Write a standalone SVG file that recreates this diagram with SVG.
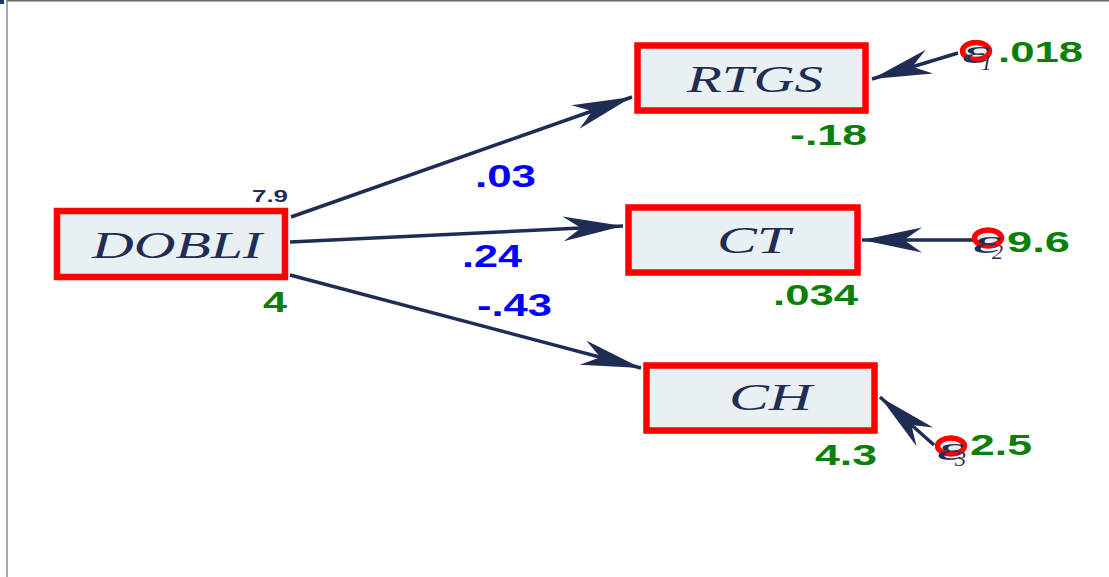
<svg xmlns="http://www.w3.org/2000/svg" width="1109" height="577" viewBox="0 0 1109 577">
  <style>
    .box { fill: #e9f0f3; stroke: #ff0000; stroke-width: 6.5; }
    .var { font-family: "Liberation Serif", serif; font-style: italic; font-size: 38px; fill: #1f2d55; }
    .eps { font-family: "Liberation Serif", serif; font-style: italic; font-size: 34px; fill: #1f2d55; }
    .sub { font-family: "Liberation Serif", serif; font-style: italic; font-size: 22px; fill: #1f2d55; }
    .coef { font-family: "Liberation Sans", Arial, sans-serif; font-weight: bold; font-size: 31px; fill: #0000ff; }
    .est { font-family: "Liberation Sans", Arial, sans-serif; font-weight: bold; font-size: 29px; fill: #0a800a; }
    .mean { font-family: "Liberation Sans", Arial, sans-serif; font-weight: bold; font-size: 16px; fill: #1f2d55; }
    .path { fill: none; stroke: #1f2d55; stroke-width: 3.5; marker-end: url(#head); }
    .ring { fill: #e9eef0; stroke: #ff0000; stroke-width: 5.5; }
  </style>
  <defs>
    <marker id="head" viewBox="-62 -14 64 28" refX="0" refY="0" markerWidth="64" markerHeight="28" markerUnits="userSpaceOnUse" orient="auto">
      <path d="M0,0 L-60,-12.5 L-42,0 L-60,12.5 Z" fill="#1f2d55"/>
    </marker>
  </defs>

  <rect width="1109" height="577" fill="#ffffff"/>
  <!-- frame -->
  <line x1="7" y1="0" x2="7" y2="577" stroke="#8a8a8a" stroke-width="1.5"/>
  <line x1="7" y1="0.7" x2="1109" y2="0.7" stroke="#6a6a6a" stroke-width="1.5"/>
  <rect x="0" y="0" width="4" height="4" fill="#1a3a6a"/>

  <!-- connectors -->
  <g id="connectors">
    <path class="path" d="M291,217 L632,97"/>
    <path class="path" d="M290,242 L623,226"/>
    <path class="path" d="M290,275 L641,368"/>
    <path class="path" d="M958,53 L872,79"/>
    <path class="path" d="M975,240 L862,240"/>
    <path class="path" d="M934,445 L880,397"/>
  </g>

  <!-- path coefficients -->
  <g id="coefficients">
    <text class="coef" x="475" y="187" textLength="61" lengthAdjust="spacingAndGlyphs">.03</text>
    <text class="coef" x="462" y="267" textLength="60" lengthAdjust="spacingAndGlyphs">.24</text>
    <text class="coef" x="477" y="316" textLength="75" lengthAdjust="spacingAndGlyphs">-.43</text>
  </g>

  <g id="DOBLI">
    <rect class="box" x="57" y="211" width="228" height="66"/>
    <text class="var" x="92" y="258" textLength="170" lengthAdjust="spacingAndGlyphs">DOBLI</text>
    <text class="mean" x="252" y="202" textLength="36" lengthAdjust="spacingAndGlyphs">7.9</text>
    <text class="est" x="263" y="312" textLength="24" lengthAdjust="spacingAndGlyphs">4</text>
  </g>

  <g id="RTGS">
    <rect class="box" x="637.5" y="45.5" width="228" height="65"/>
    <text class="var" x="687" y="92" textLength="136" lengthAdjust="spacingAndGlyphs">RTGS</text>
    <text class="est" x="790" y="145" textLength="77" lengthAdjust="spacingAndGlyphs">-.18</text>
  </g>

  <g id="CT">
    <rect class="box" x="628.5" y="207.5" width="229" height="65"/>
    <text class="var" x="717" y="253" textLength="73" lengthAdjust="spacingAndGlyphs">CT</text>
    <text class="est" x="773" y="305" textLength="85" lengthAdjust="spacingAndGlyphs">.034</text>
  </g>

  <g id="CH">
    <rect class="box" x="646.5" y="365.5" width="228" height="65"/>
    <text class="var" x="729" y="410" textLength="83" lengthAdjust="spacingAndGlyphs">CH</text>
    <text class="est" x="815" y="465" textLength="62" lengthAdjust="spacingAndGlyphs">4.3</text>
  </g>

  <g id="e1">
    <ellipse class="ring" cx="976" cy="51" rx="13.5" ry="8.5"/>
    <text class="eps" x="962" y="63" textLength="28" lengthAdjust="spacingAndGlyphs">ε</text>
    <text class="sub" x="981" y="70">1</text>
    <text class="est" x="998" y="62" textLength="85" lengthAdjust="spacingAndGlyphs">.018</text>
  </g>

  <g id="e2">
    <ellipse class="ring" cx="988" cy="238" rx="13.5" ry="8"/>
    <text class="eps" x="973" y="253" textLength="28" lengthAdjust="spacingAndGlyphs">ε</text>
    <text class="sub" x="992" y="259">2</text>
    <text class="est" x="1007" y="252" textLength="63" lengthAdjust="spacingAndGlyphs">9.6</text>
  </g>

  <g id="e3">
    <ellipse class="ring" cx="951" cy="446" rx="13.5" ry="8"/>
    <text class="eps" x="937" y="460" textLength="27" lengthAdjust="spacingAndGlyphs">ε</text>
    <text class="sub" x="955" y="466">3</text>
    <text class="est" x="970" y="455" textLength="62" lengthAdjust="spacingAndGlyphs">2.5</text>
  </g>
</svg>
